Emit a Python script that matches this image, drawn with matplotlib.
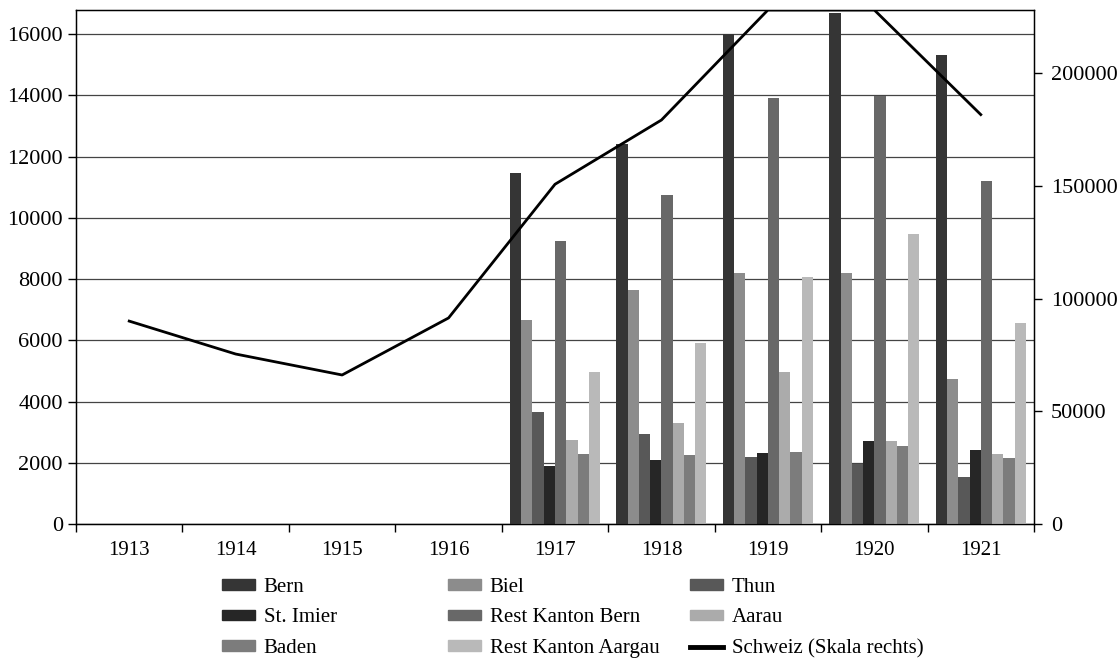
import numpy as np
import matplotlib
matplotlib.use('Agg')
import matplotlib.pyplot as plt
from matplotlib.patches import Patch
from matplotlib.lines import Line2D

plt.rcParams['font.family'] = 'Liberation Serif'

years = ['1913', '1914', '1915', '1916', '1917', '1918', '1919', '1920', '1921']
bar_years = ['1917', '1918', '1919', '1920', '1921']

bern = [11450, 12400, 16000, 16700, 15300]
biel = [6650, 7650, 8200, 8200, 4750]
thun = [3650, 2950, 2200, 1950, 1550]
st_imier = [1880, 2100, 2320, 2720, 2420]
rest_bern = [9250, 10750, 13900, 13980, 11200]
aarau = [2750, 3300, 4950, 2720, 2280]
baden = [2300, 2260, 2360, 2550, 2170]
rest_aargau = [4950, 5900, 8050, 9480, 6550]

schweiz = [90000, 75400, 66100, 91400, 150700, 179200, 228000, 228000, 181600]

series = [
    ('Bern', bern, '#353535'),
    ('Biel', biel, '#8c8c8c'),
    ('Thun', thun, '#585858'),
    ('St. Imier', st_imier, '#262626'),
    ('Rest Kanton Bern', rest_bern, '#686868'),
    ('Aarau', aarau, '#ababab'),
    ('Baden', baden, '#7c7c7c'),
    ('Rest Kanton Aargau', rest_aargau, '#b9b9b9'),
]

fig = plt.figure(figsize=(11.19, 6.64), dpi=100)
ax = fig.add_axes([76 / 1119, 1 - 524 / 664, (1034 - 76) / 1119, (524 - 10) / 664])

x = np.arange(len(years))
bx = np.array([years.index(y) for y in bar_years])
n = len(series)
w = 0.846 / n
for i, (name, vals, col) in enumerate(series):
    ax.bar(bx - 0.423 + w * (i + 0.5), vals, width=w, color=col, zorder=3)

ax.set_xlim(-0.5, len(years) - 0.5)
ax.set_ylim(0, 16784)
ax.set_yticks(range(0, 16001, 2000))
ax.grid(axis='y', color='#444444', linewidth=0.9, zorder=0)
ax.set_axisbelow(True)
ax.set_xticks(x)
ax.set_xticklabels(years)
ax.set_xticks(np.arange(-0.5, len(years), 1), minor=True)
ax.tick_params(axis='x', which='major', length=0, pad=12, labelsize=15)
ax.tick_params(axis='x', which='minor', length=6, width=1)
ax.tick_params(axis='y', length=6, width=1, labelsize=16)
for s in ax.spines.values():
    s.set_linewidth(1)

ax2 = ax.twinx()
ax2.plot(x, schweiz, color='black', linewidth=2.0, zorder=5)
ax2.set_ylim(0, 228000)
ax2.set_yticks(range(0, 200001, 50000))
ax2.tick_params(axis='y', length=6, width=1, labelsize=16, pad=6)

handles = [Patch(color=c) for _, _, c in series]
handles.append(Line2D([], [], color='black', linewidth=3.5))
labels = [s[0] for s in series] + ['Schweiz (Skala rechts)']

col_x = [222, 448, 690]
for c in range(3):
    hs = handles[c::3]
    ls = labels[c::3]
    fig.legend(hs, ls, loc='upper left', bbox_to_anchor=(col_x[c] / 1119, 1 - 578 / 664),
               frameon=False, fontsize=15, handlelength=1.6, handleheight=0.4,
               handletextpad=0.4, labelspacing=0.55, borderpad=0, borderaxespad=0)

fig.savefig('out.png', dpi=100)
